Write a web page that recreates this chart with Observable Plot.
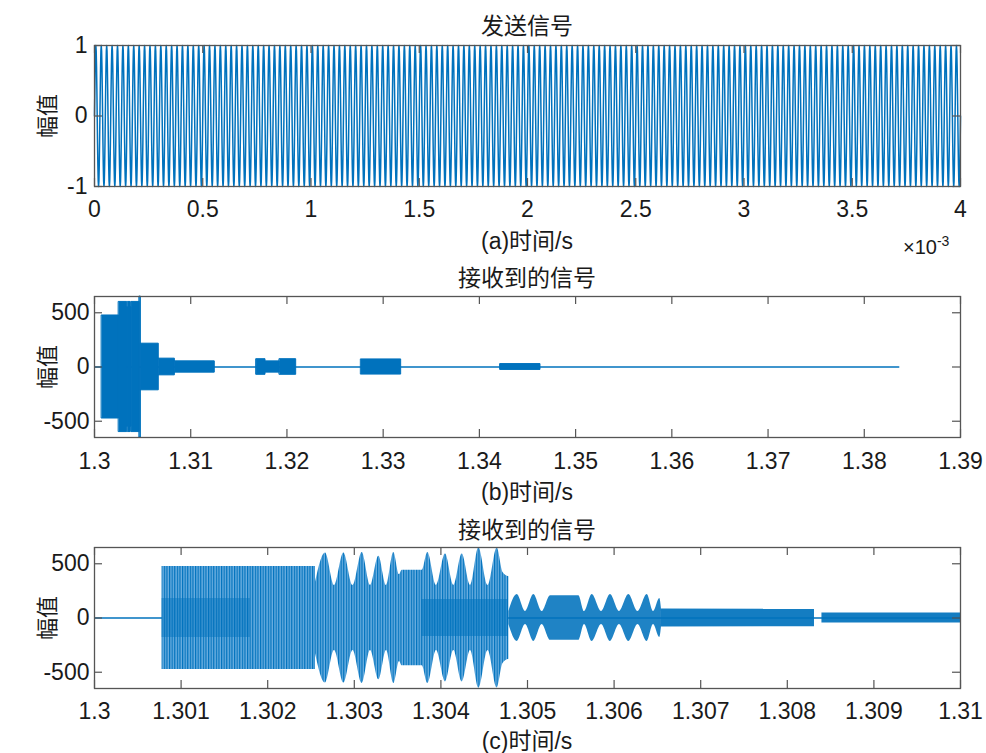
<!DOCTYPE html>
<html><head><meta charset="utf-8">
<script src="https://cdn.jsdelivr.net/npm/d3@7"></script>
<script src="https://cdn.jsdelivr.net/npm/@observablehq/plot@0.6"></script>
<style>
body{margin:0;background:#fff;}
#fig{position:relative;width:986px;height:753px;overflow:hidden;background:#fff;
 font-family:"Liberation Sans",Arial,"Noto Sans CJK SC",sans-serif;color:#1a1a1a;}
.lbl{position:absolute;transform:translate(-50%,-50%);white-space:nowrap;font-size:23px;line-height:1;}
.ylbl{position:absolute;transform:translate(-50%,-50%) rotate(-90deg);white-space:nowrap;font-size:22px;line-height:1;}
.pl{position:absolute;left:0;}
</style></head><body>
<svg width="0" height="0" style="position:absolute">
  <defs>
    <pattern id="cStripe" patternUnits="userSpaceOnUse" width="2.6" height="10">
      <rect x="0" y="0" width="2.6" height="10" fill="#6aaee0"></rect>
      <rect x="0" y="0" width="1.2" height="10" fill="#0072BD"></rect>
    </pattern>
  </defs>
</svg>
<div id="fig"></div>
<script>
// ---------------- data ----------------
// (a) transmitted signal: a pure tone, ~160 cycles in 4 ms
const sendCarrierHz = 40000;
const sendAmplitude = 1;
const sendDuration = 0.004;
const ticksA = [0, 0.0005, 0.001, 0.0015, 0.002, 0.0025, 0.003, 0.0035, 0.004];
const tickLabelsA = ["0", "0.5", "1", "1.5", "2", "2.5", "3", "3.5", "4"];
const yTicksA = [-1, 0, 1];

// (b) received signal: bursts [start s, end s, amplitude]
const burstsB = [
  [1.30078, 1.30255, 475],
  [1.30255, 1.30340, 600],
  [1.30340, 1.30350, 550],
  [1.30350, 1.30374, 600],
  [1.30374, 1.30385, 550],
  [1.30385, 1.30470, 600],
  [1.30470, 1.30482, 650],
  [1.30482, 1.30668, 215],
  [1.30668, 1.30835, 77],
  [1.30835, 1.31250, 52],
  [1.31684, 1.31777, 72],
  [1.31777, 1.31926, 52],
  [1.31926, 1.32096, 72],
  [1.32772, 1.33187, 70],
  [1.34219, 1.34635, 27]
];
const baselineEndB = 1.38369;
const ticksB = [1.3, 1.31, 1.32, 1.33, 1.34, 1.35, 1.36, 1.37, 1.38, 1.39];
const tickLabelsB = ["1.3", "1.31", "1.32", "1.33", "1.34", "1.35", "1.36", "1.37", "1.38", "1.39"];
const yTicksBC = [-500, 0, 500];

// (c) received signal, zoomed: envelope [time s, amplitude]
const cBlock1 = [[1.30078, 475], [1.302552, 475]];
const cBlock1Core = [[1.30078, 180], [1.3018, 180]];
const cLobesBig = [
  [1.302552, 330], [1.302667, 600], [1.302771, 300], [1.302879, 600], [1.302985, 300],
  [1.303091, 604], [1.303187, 300], [1.303283, 570], [1.303372, 300], [1.303456, 604],
  [1.303522, 400], [1.303553, 440], [1.303784, 440], [1.303849, 604], [1.303949, 300],
  [1.304053, 590], [1.304149, 300], [1.304246, 590], [1.304342, 300], [1.304438, 648],
  [1.304544, 300], [1.304650, 645], [1.304717, 420], [1.304785, 380]
];
const cLobesBigCore = [[1.30378, 170], [1.30478, 170]];
const cLobesSmall = [
  [1.304785, 60], [1.304881, 216], [1.304977, 60], [1.305073, 216], [1.305169, 60],
  [1.305266, 206], [1.305593, 206], [1.305658, 60], [1.305747, 216], [1.305855, 60],
  [1.305958, 216], [1.306062, 60], [1.306170, 216], [1.306276, 60], [1.306382, 216],
  [1.306455, 60], [1.306528, 180], [1.306547, 83]
];
const cTail1 = [[1.306547, 83], [1.308314, 80]];
const cTail2 = [[1.3084, 46], [1.31, 46]];
const ticksC = [1.3, 1.301, 1.302, 1.303, 1.304, 1.305, 1.306, 1.307, 1.308, 1.309, 1.31];
const tickLabelsC = ["1.3", "1.301", "1.302", "1.303", "1.304", "1.305", "1.306", "1.307", "1.308", "1.309", "1.31"];

// ---------------- drawing ----------------
const BLUE = "#0072BD";
const AXC = "#555";
const W = 986;
const fig = document.getElementById("fig");

function lookup(ticks, labels) {
  return d => { const i = ticks.findIndex(v => Math.abs(v - d) < 1e-9); return i < 0 ? "" : labels[i]; };
}

function panel({top, height, mt, mb, xd, yd, xt, xl, yt, marks, padX, padY}) {
  const ml = 94, mr = 26;
  const fw = W - ml - mr, fh = height - mt - mb;
  const lx = (xd[1] - xd[0]) * 8 / fw, ly = (yd[1] - yd[0]) * 8 / fh;
  const svg = Plot.plot({
    width: W, height, marginLeft: ml, marginRight: mr, marginTop: mt, marginBottom: mb,
    style: {fontSize: "23px", fontFamily: "'Liberation Sans', Arial, sans-serif", color: "#1a1a1a", background: "transparent"},
    x: {domain: xd, ticks: xt, tickFormat: lookup(xt, xl), tickSize: 0, tickPadding: padX, label: null},
    y: {domain: yd, ticks: yt, tickFormat: d => String(d), tickSize: 0, tickPadding: padY, label: null},
    marks: [
      ...marks,
      Plot.ruleX(xt, {x: d => d, y1: yd[0], y2: yd[0] + ly, stroke: AXC, strokeWidth: 1.2}),
      Plot.ruleX(xt, {x: d => d, y1: yd[1], y2: yd[1] - ly, stroke: AXC, strokeWidth: 1.2}),
      Plot.ruleY(yt, {y: d => d, x1: xd[0], x2: xd[0] + lx, stroke: AXC, strokeWidth: 1.2}),
      Plot.ruleY(yt, {y: d => d, x1: xd[1], x2: xd[1] - lx, stroke: AXC, strokeWidth: 1.2}),
      Plot.frame({stroke: AXC, strokeWidth: 1.3})
    ]
  });
  svg.classList.add("pl");
  svg.style.top = top + "px";
  fig.appendChild(svg);
}

function blocksToRows(blocks) {
  const rows = [];
  blocks.forEach(([t0, t1, a], k) => { rows.push({k, t: t0, a}); rows.push({k, t: t1, a}); });
  return rows;
}
const rowsOf = (arr) => arr.map(([t, a]) => ({t, a}));

// (a) samples of the tone
const samplesPerCycle = 16;
const nSamples = Math.round(sendDuration * sendCarrierHz * samplesPerCycle);
const sendSignal = d3.range(nSamples + 1).map(i => {
  const t = i * sendDuration / nSamples;
  return {t, v: sendAmplitude * Math.sin(2 * Math.PI * sendCarrierHz * t)};
});

panel({
  top: 0, height: 253, mt: 45, mb: 67,
  xd: [0, 0.004], yd: [-1, 1], xt: ticksA, xl: tickLabelsA, yt: yTicksA, padX: 14, padY: 7,
  marks: [Plot.line(sendSignal, {x: "t", y: "v", stroke: BLUE, strokeWidth: 1.5})]
});

panel({
  top: 253, height: 250, mt: 43, mb: 66,
  xd: [1.3, 1.39], yd: [-650, 650], xt: ticksB, xl: tickLabelsB, yt: yTicksBC, padX: 15, padY: 5,
  marks: [
    Plot.ruleY([0], {x1: 1.3, x2: baselineEndB, stroke: BLUE, strokeWidth: 1.4}),
    Plot.areaY(blocksToRows(burstsB), {x: "t", y1: d => -d.a, y2: "a", z: "k", fill: BLUE, stroke: BLUE, strokeWidth: 1})
  ]
});

panel({
  top: 503, height: 250, mt: 44, mb: 65,
  xd: [1.3, 1.31], yd: [-650, 650], xt: ticksC, xl: tickLabelsC, yt: yTicksBC, padX: 14, padY: 5,
  marks: [
    Plot.ruleY([0], {x1: 1.3, x2: 1.31, stroke: BLUE, strokeWidth: 1.4}),
    Plot.areaY(rowsOf(cBlock1), {x: "t", y1: d => -d.a, y2: "a", fill: "url(#cStripe)"}),
    Plot.areaY(rowsOf(cBlock1Core), {x: "t", y1: d => -d.a, y2: "a", fill: BLUE, fillOpacity: 0.45}),
    Plot.areaY(rowsOf(cLobesBig), {x: "t", y1: d => -d.a, y2: "a", fill: "url(#cStripe)", curve: "monotone-x"}),
    Plot.areaY(rowsOf(cLobesBigCore), {x: "t", y1: d => -d.a, y2: "a", fill: BLUE, fillOpacity: 0.55}),
    Plot.areaY(rowsOf(cLobesSmall), {x: "t", y1: d => -d.a, y2: "a", fill: BLUE, fillOpacity: 0.88, curve: "monotone-x"}),
    Plot.areaY(rowsOf(cTail1), {x: "t", y1: d => -d.a, y2: "a", fill: BLUE, fillOpacity: 0.92}),
    Plot.areaY(rowsOf(cTail2), {x: "t", y1: d => -d.a, y2: "a", fill: BLUE, fillOpacity: 0.92})
  ]
});

// text
const texts = [
  ["发送信号", 527, 26, "lbl"],
  ["(a)时间/s", 527, 241, "lbl"],
  ["幅值", 48, 116, "ylbl"],
  ["接收到的信号", 527, 278, "lbl"],
  ["(b)时间/s", 527, 492, "lbl"],
  ["幅值", 48, 367, "ylbl"],
  ["接收到的信号", 527, 530, "lbl"],
  ["(c)时间/s", 527, 741, "lbl"],
  ["幅值", 48, 618, "ylbl"]
];
texts.forEach(([s, x, y, c]) => {
  const d = document.createElement("div");
  d.className = c; d.textContent = s;
  d.style.left = x + "px"; d.style.top = y + "px";
  fig.appendChild(d);
});
const ex = document.createElement("div");
ex.style.cssText = "position:absolute;left:903px;top:237px;font-size:20px;line-height:1;white-space:nowrap;";
ex.innerHTML = "×10<sup style='font-size:14px;vertical-align:8px;line-height:0'>-3</sup>";
fig.appendChild(ex);
</script></body></html>
